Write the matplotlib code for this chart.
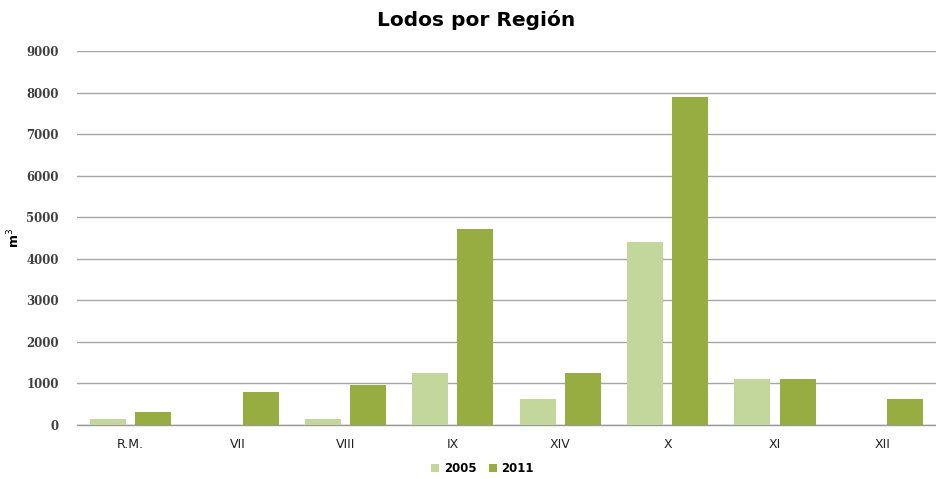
import matplotlib
matplotlib.use("Agg")
import matplotlib.pyplot as plt
import numpy as np

categories = ["R.M.", "VII", "VIII", "IX", "XIV", "X", "XI", "XII"]
values_2005 = [150, 0, 150, 1250, 630, 4400, 1100, 0]
values_2011 = [310, 800, 960, 4720, 1260, 7890, 1100, 630]
series_labels = ["2005", "2011"]
yticks = [0, 1000, 2000, 3000, 4000, 5000, 6000, 7000, 8000, 9000]

c2005 = "#C3D69B"
c2011 = "#97AD42"

fig = plt.figure(figsize=(9.37, 4.79), dpi=100)
ax = fig.add_axes([0.0822, 0.1127, 0.9168, 0.7808])

x = np.arange(len(categories))
w = 0.335
off = 0.21
ax.bar(x - off, values_2005, width=w, color=c2005, label=series_labels[0], zorder=3)
ax.bar(x + off, values_2011, width=w, color=c2011, label=series_labels[1], zorder=3)

ax.set_xlim(-0.5, len(categories) - 0.5)
ax.set_ylim(0, 9000)
ax.set_yticks(yticks)
ax.set_yticklabels([str(v) for v in yticks], fontfamily="DejaVu Serif",
                   fontweight="bold", fontsize=8.5, color="#404040")
ax.set_xticks(x)
ax.set_xticklabels(categories, fontsize=9, color="#222222")
ax.tick_params(axis="x", length=0, pad=9)
ax.tick_params(axis="y", length=0, pad=13)

ax.grid(axis="y", color="#A6A6A6", linewidth=1, zorder=0)
for s in ["top", "right", "left"]:
    ax.spines[s].set_visible(False)
ax.spines["bottom"].set_color("#999999")
ax.spines["bottom"].set_linewidth(1)

ax.set_ylabel("m$^3$", fontsize=9, fontweight="bold")
ax.yaxis.set_label_coords(-0.0635, 0.5)

fig.suptitle("Lodos por Región", fontsize=14.5, fontweight="bold", x=0.508, y=0.98)

leg = fig.legend(loc="center", bbox_to_anchor=(0.515, 0.022), ncol=2, frameon=False,
                 handlelength=0.7, handleheight=0.7, handletextpad=0.4, columnspacing=1.0,
                 prop={"weight": "bold", "size": 8.5})

fig.savefig("out.png", dpi=100)
